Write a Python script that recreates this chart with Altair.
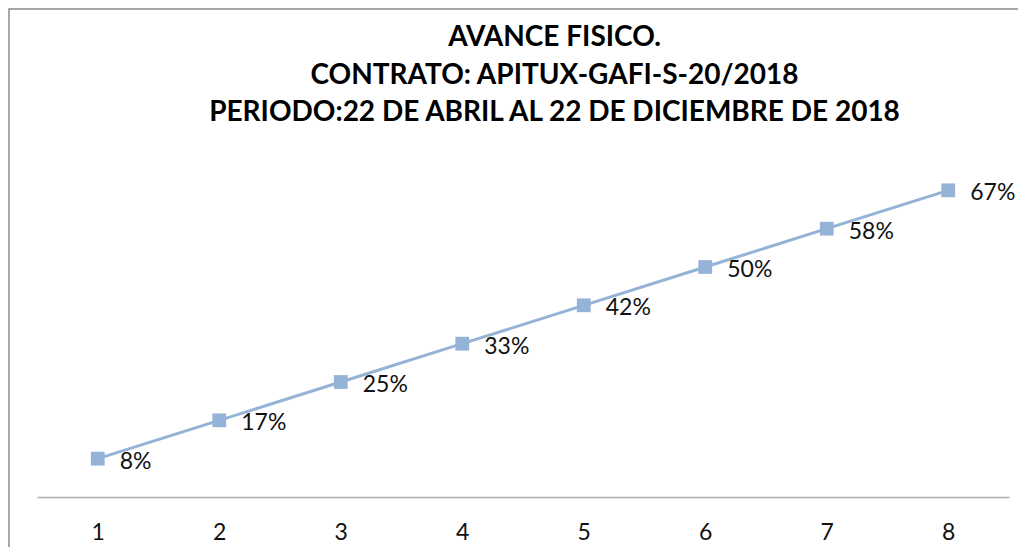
import altair as alt
import pandas as pd

periods = [1, 2, 3, 4, 5, 6, 7, 8]
avance = [0.0833, 0.1667, 0.25, 0.3333, 0.4167, 0.5, 0.5833, 0.6667]
title_lines = [
    "AVANCE FISICO.",
    "CONTRATO: APITUX-GAFI-S-20/2018",
    "PERIODO:22 DE ABRIL AL 22 DE DICIEMBRE DE 2018",
]

df = pd.DataFrame({"periodo": periods, "avance": avance})

COLOR = "#95B3D7"
FONT = "Lato"

x_enc = alt.X(
    "periodo:O",
    title=None,
    scale=alt.Scale(paddingInner=0, paddingOuter=0),
    axis=alt.Axis(
        labelAngle=0,
        ticks=False,
        domainColor="#ADADAD",
        domainWidth=1.5,
        labelFont=FONT,
        labelFontSize=23,
        labelColor="#111111",
        labelPadding=24,
        labelBaseline="top",
        grid=False,
    ),
)
y_enc = alt.Y(
    "avance:Q",
    title=None,
    scale=alt.Scale(domain=[0, 0.8], nice=False),
    axis=None,
)

base = alt.Chart(df).encode(x=x_enc, y=y_enc)

line = base.mark_line(color=COLOR, strokeWidth=3)
pts = base.mark_point(shape="square", filled=True, size=190, color=COLOR, opacity=1)
labels = base.mark_text(
    align="left", baseline="middle", dx=22, dy=3, font=FONT, fontSize=23, color="#111111"
).encode(text=alt.Text("avance:Q", format=".0%"))

one = pd.DataFrame({"a": [0]})
border = alt.Chart(one).mark_rect(
    fill=None, stroke="#8A8A8A", strokeWidth=1.5, clip=False
).encode(
    x=alt.value(-28),
    x2=alt.value(1100),
    y=alt.value(-120),
    y2=alt.value(440),
)

title_marks = []
for txt, yy in zip(title_lines, [-83, -45.5, -8]):
    title_marks.append(
        alt.Chart(one)
        .mark_text(
            text=txt,
            font=FONT,
            fontSize=28,
            fontWeight="bold",
            color="#000000",
            align="center",
            baseline="alphabetic",
        )
        .encode(x=alt.value(517.5), y=alt.value(yy))
    )

chart = (
    alt.layer(border, line, pts, labels, *title_marks)
    .properties(
        width=972,
        height=368,
        autosize=alt.AutoSizeParams(type="none"),
        padding={"left": 29, "top": 121, "right": 9, "bottom": 50},
    )
    .configure_view(stroke=None)
)

chart.save("out.html", embed_options={"renderer": "svg", "actions": False})
